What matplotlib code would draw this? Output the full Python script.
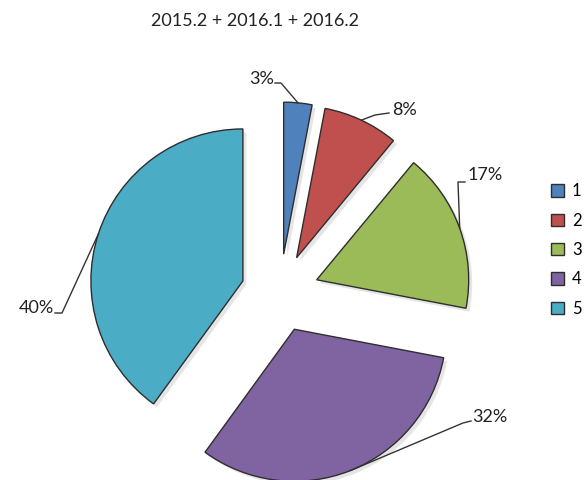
import matplotlib
matplotlib.use("Agg")
import matplotlib.pyplot as plt
import numpy as np

plt.rcParams['font.family'] = ['Lato', 'DejaVu Sans']

# data
categories = ['1', '2', '3', '4', '5']
shares = [3, 8, 17, 32, 40]
pct_labels = ['3%', '8%', '17%', '32%', '40%']
colors = ['#4F81BD', '#C0504D', '#9BBB59', '#8064A2', '#4BACC6']

W, H = 584, 480
fig = plt.figure(figsize=(W / 100, H / 100), dpi=100)
ax = fig.add_axes([0, 0, 1, 1])

# pie measured in pixels (y up)
wedges, _ = ax.pie(shares, colors=colors, startangle=90, counterclock=False,
                   radius=152, center=(280, H - 293), explode=[39] * 5,
                   wedgeprops=dict(edgecolor='#2e2e2e', linewidth=1.0),
                   shadow={'ox': 2.5, 'oy': -2.5, 'facecolor': '#d0d0d0',
                           'edgecolor': 'none', 'alpha': 0.55})
ax.set_xlim(0, W)
ax.set_ylim(0, H)
ax.set_aspect('equal')
ax.axis('off')

# label positions (text anchor, leader start, elbow), pixel coords y-down
label_pos = [
    dict(xy=(274, 79), ha='right', start=(275, 83), elbow=(281, 83)),
    dict(xy=(392, 110), ha='left', start=(389, 113), elbow=(375, 115)),
    dict(xy=(468, 175), ha='left', start=(465, 182), elbow=(458, 182)),
    dict(xy=(490, 417), ha='center', start=(471, 421), elbow=(463, 423)),
    dict(xy=(54, 308), ha='right', start=(55, 313), elbow=(62, 313)),
]

for w, lab, p in zip(wedges, pct_labels, label_pos):
    th = np.deg2rad((w.theta1 + w.theta2) / 2)
    ex = w.center[0] + w.r * np.cos(th)
    ey = w.center[1] + w.r * np.sin(th)
    ax.plot([p['start'][0], p['elbow'][0], ex],
             [H - p['start'][1], H - p['elbow'][1], ey],
             color='#333333', lw=1.0, zorder=5)
    ax.text(p['xy'][0], H - p['xy'][1], lab, ha=p['ha'], va='center',
            fontsize=13, color='#222222', zorder=6)

ax.text(255, H - 21, '2015.2 + 2016.1 + 2016.2', ha='center', va='center',
        fontsize=13, color='#222222')

leg = ax.legend(wedges, categories, loc='center left',
                bbox_to_anchor=(536, H - 250), bbox_transform=ax.transData,
                frameon=False, fontsize=12, handlelength=0.75,
                handleheight=0.75, handletextpad=0.5, labelspacing=0.8)
for h in leg.legend_handles:
    h.set_edgecolor('#2e2e2e')
    h.set_linewidth(1.0)

fig.savefig('out.png', dpi=100)
